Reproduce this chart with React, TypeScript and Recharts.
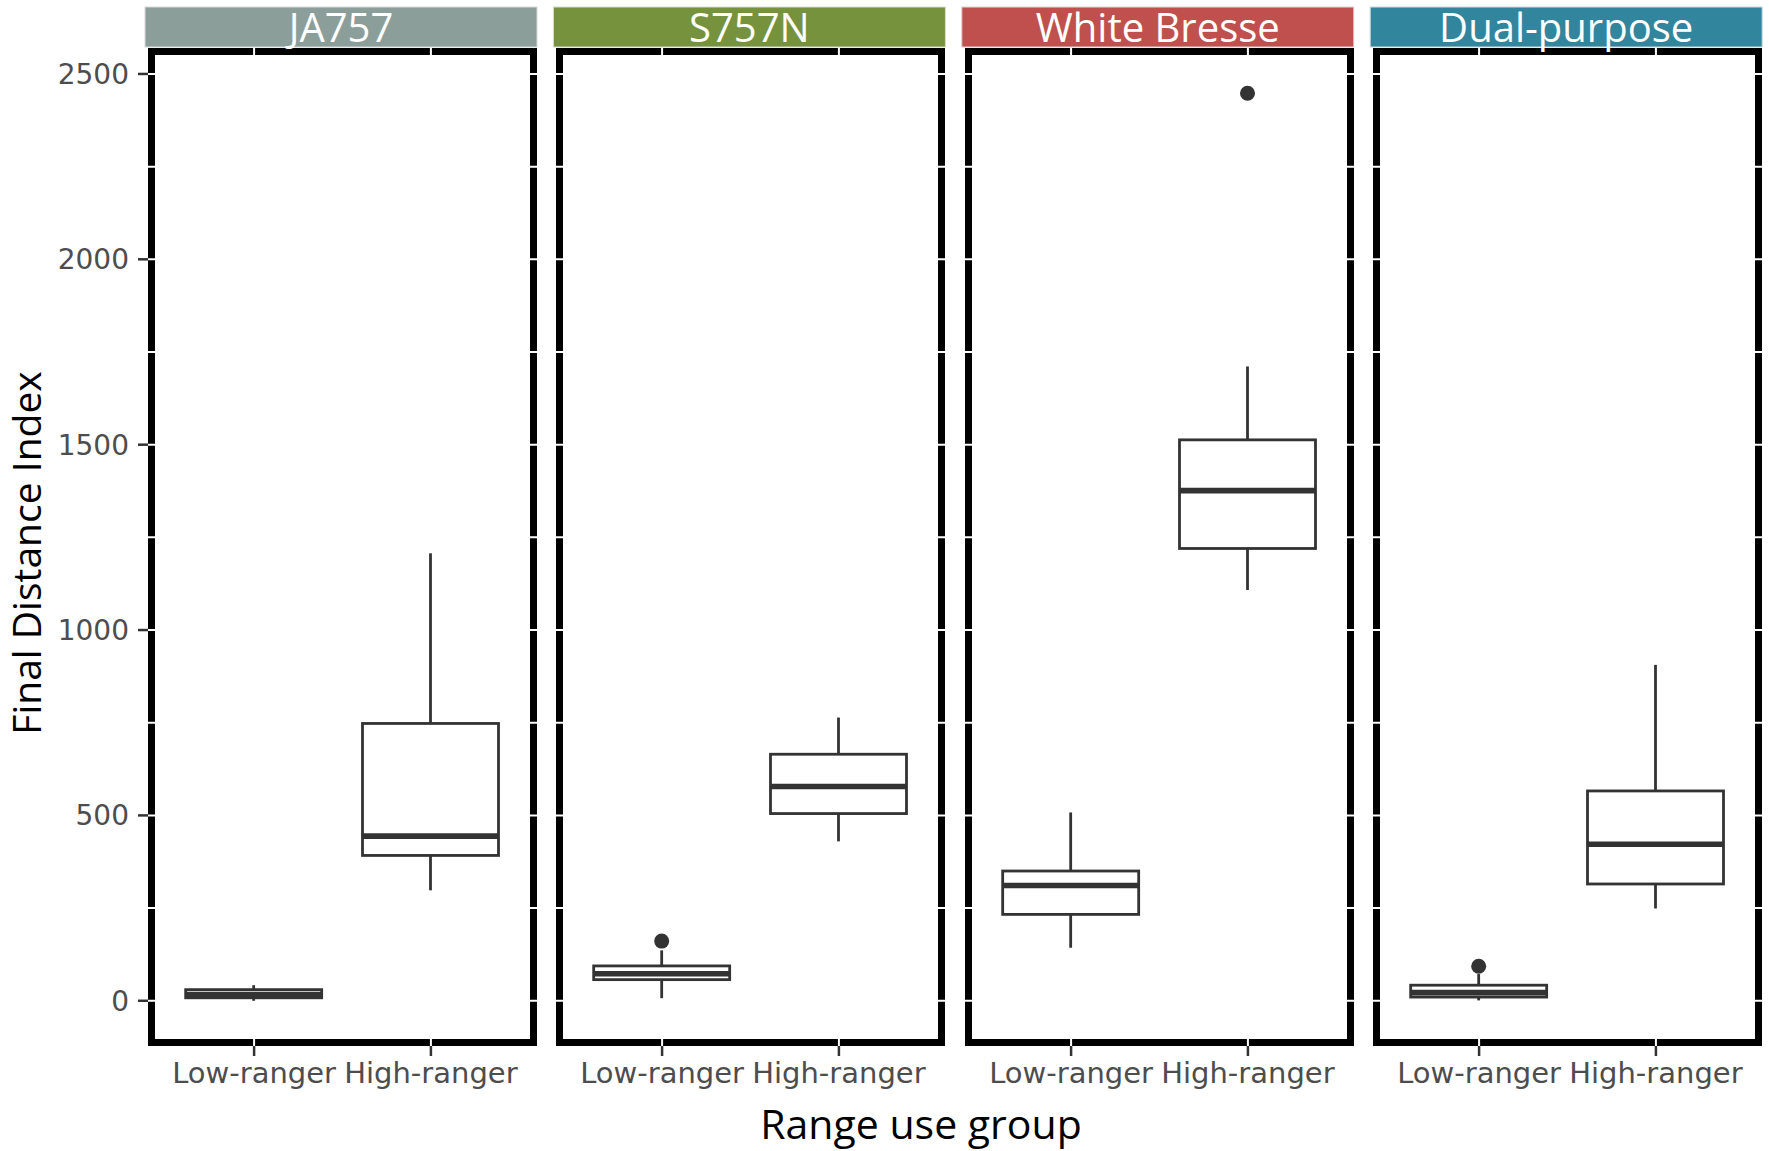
import { ComposedChart, Bar, XAxis, YAxis, CartesianGrid, ReferenceArea } from "recharts";

const breeds = ["JA757", "S757N", "White Bresse", "Dual-purpose"];
const groups = ["Low-ranger", "High-ranger"];

// box plot stats per breed: [Low-ranger, High-ranger]
const whiskerLow = [[0, 298], [7, 430], [143, 1108], [1, 249]];
const lowerQuartile = [[8, 392], [57, 505], [233, 1220], [10, 315]];
const median = [[17, 444], [73, 578], [311, 1376], [22, 422]];
const upperQuartile = [[30, 748], [94, 665], [350, 1513], [42, 566]];
const whiskerHigh = [[42, 1207], [136, 764], [508, 1711], [72, 906]];
const outliers = [[[], []], [[161], []], [[], [2448]], [[93], []]];

const yTicks = [0, 500, 1000, 1500, 2000, 2500];
const gridValues = [0, 250, 500, 750, 1000, 1250, 1500, 1750, 2000, 2250, 2500];

const STRIP_COLORS = ["#8C9E99", "#76923C", "#C0504D", "#31859C"];
const INK = "#333333";

const FIRST_LEFT = 148;
const PANEL_STEP = 408.4;
const PANEL_W = 389;
const PLOT_TOP = 48;
const PLOT_H = 998;
const CHART_H = 1100;
const Y_AXIS_W = 148;

function BoxShape(props: any) {
    const { x, y, width, height, payload } = props;
    if (payload == null) return null;
    const top = Math.min(y, y + height);
    const bottom = Math.max(y, y + height);
    const [lo, hi] = payload.range;
    // map a value onto the pixel span the bar got from the y scale
    const toPx = (v: number) => top + ((hi - v) / (hi - lo)) * (bottom - top);
    const cx = x + width / 2;
    const yQ1 = toPx(payload.q1);
    const yQ3 = toPx(payload.q3);
    const yMed = toPx(payload.median);
    return (
        <g>
            <line x1={cx} x2={cx} y1={toPx(payload.whiskerHigh)} y2={yQ3} stroke={INK} strokeWidth={2.8} />
            <line x1={cx} x2={cx} y1={yQ1} y2={toPx(payload.whiskerLow)} stroke={INK} strokeWidth={2.8} />
            <rect x={x} y={yQ3} width={width} height={Math.max(yQ1 - yQ3, 0.1)} fill="#ffffff" stroke={INK} strokeWidth={2.8} />
            <line x1={x} x2={x + width} y1={yMed} y2={yMed} stroke={INK} strokeWidth={5.6} />
            {payload.outliers.map((o: number, k: number) => (
                <circle key={k} cx={cx} cy={toPx(o)} r={7.5} fill={INK} />
            ))}
        </g>
    );
}

function Panel({ index }: { index: number }) {
    const rows = groups.map((g, j) => {
        const out = outliers[index][j];
        return {
            pos: j + 1,
            group: g,
            whiskerLow: whiskerLow[index][j],
            q1: lowerQuartile[index][j],
            median: median[index][j],
            q3: upperQuartile[index][j],
            whiskerHigh: whiskerHigh[index][j],
            outliers: out,
            range: [Math.min(whiskerLow[index][j], ...out), Math.max(whiskerHigh[index][j], ...out)],
        };
    });
    const first = index === 0;
    const plotLeft = FIRST_LEFT + index * PANEL_STEP;
    const left = first ? 0 : plotLeft;
    const width = first ? Y_AXIS_W + PANEL_W : PANEL_W;

    return (
        <div style={{ position: "absolute", left, top: 0, width, height: CHART_H }}>
            <ComposedChart width={width} height={CHART_H} data={rows} margin={{ top: PLOT_TOP, right: 0, bottom: 0, left: 0 }}>
                <ReferenceArea
                    x1={0.4}
                    x2={2.6}
                    y1={-122}
                    y2={2570}
                    fill="#ffffff"
                    stroke="#000000"
                    strokeWidth={14}
                    ifOverflow="hidden"
                    zIndex={-200}
                />
                <CartesianGrid
                    stroke="#ffffff"
                    strokeWidth={2}
                    horizontalValues={gridValues}
                    verticalValues={[1, 2]}
                />
                <XAxis
                    type="number"
                    dataKey="pos"
                    domain={[0.4, 2.6]}
                    ticks={[1, 2]}
                    interval={0}
                    allowDataOverflow
                    height={CHART_H - PLOT_TOP - PLOT_H}
                    axisLine={false}
                    tickSize={10}
                    tickMargin={6}
                    tickLine={{ stroke: INK, strokeWidth: 2.5 }}
                    tickFormatter={(v: number) => groups[v - 1]}
                    tick={{ fill: "#4D4D4D", fontSize: 29, fontFamily: "DejaVu Sans" }}
                />
                <YAxis
                    type="number"
                    domain={[-122, 2570]}
                    ticks={yTicks}
                    interval={0}
                    allowDataOverflow
                    hide={!first}
                    width={Y_AXIS_W}
                    axisLine={false}
                    tickSize={10}
                    tickMargin={9}
                    tickLine={{ stroke: INK, strokeWidth: 2.5 }}
                    tick={{ fill: "#4D4D4D", fontSize: 28, fontFamily: "DejaVu Sans" }}
                />
                <Bar dataKey="range" barSize={136} shape={<BoxShape />} isAnimationActive={false} />
            </ComposedChart>
        </div>
    );
}

export default function App() {
    return (
        <div style={{ position: "absolute", left: 0, top: 0, width: 1769, height: 1151, background: "#ffffff", overflow: "hidden" }}>
            {breeds.map((_, i) => (
                <Panel key={i} index={i} />
            ))}
            <svg width={1769} height={1151} style={{ position: "absolute", left: 0, top: 0, pointerEvents: "none" }}>
                {breeds.map((b, i) => {
                    const plotLeft = FIRST_LEFT + i * PANEL_STEP;
                    return (
                        <g key={b}>
                            <rect x={plotLeft - 3} y={7} width={PANEL_W + 3} height={40} fill={STRIP_COLORS[i]} stroke="#d9d9d9" strokeWidth={1} />
                            <text
                                x={plotLeft - 1.5 + PANEL_W / 2}
                                y={42}
                                textAnchor="middle"
                                fill="#ffffff"
                                fontSize={40}
                                fontFamily="Open Sans"
                            >
                                {b}
                            </text>
                        </g>
                    );
                })}
                <text x={41} y={553} transform="rotate(-90, 41, 553)" textAnchor="middle" fontSize={39} fontFamily="Open Sans" fill="#000000">
                    Final Distance Index
                </text>
                <text x={921} y={1139} textAnchor="middle" fontSize={41} fontFamily="Open Sans" fill="#000000">
                    Range use group
                </text>
            </svg>
        </div>
    );
}
